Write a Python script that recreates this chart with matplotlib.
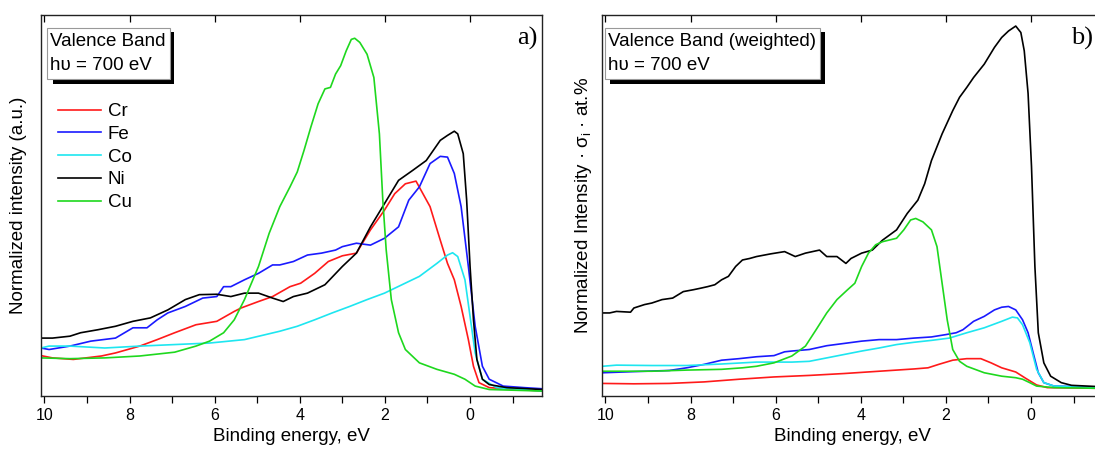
import matplotlib
matplotlib.use("Agg")
import matplotlib.pyplot as plt
from matplotlib.patches import Rectangle
from matplotlib.ticker import MultipleLocator

plt.rcParams['font.family'] = ['Liberation Sans', 'DejaVu Sans']
plt.rcParams['mathtext.fontset'] = 'custom'
plt.rcParams['mathtext.rm'] = 'Liberation Sans'
plt.rcParams['mathtext.it'] = 'Liberation Sans:italic'
plt.rcParams['mathtext.default'] = 'regular'

# ---------------- Panel a: normalized valence band spectra ----------------
a_cr_e = [10.08, 9.81, 9.32, 8.66, 8.33, 7.76, 7.35, 6.94, 6.44, 5.95, 5.54, 5.38, 4.97, 4.64, 4.23, 3.98,
          3.65, 3.33, 3.00, 2.67, 2.34, 2.01, 1.77, 1.52, 1.27, 0.94, 0.70, 0.53, 0.37, 0.21, 0.04, -0.08,
          -0.21, -0.45, -1.70]
a_cr_i = [10.6, 10.0, 9.6, 10.5, 11.3, 13.1, 14.8, 16.6, 18.7, 19.6, 22.2, 23.1, 24.8, 26.1, 28.7, 29.6,
          32.2, 35.3, 36.8, 37.5, 43.6, 48.8, 53.1, 55.7, 56.4, 49.7, 40.9, 34.8, 30.5, 23.5, 14.8, 7.8,
          3.5, 2.2, 1.3]

a_fe_e = [10.08, 9.89, 9.40, 8.91, 8.33, 7.92, 7.59, 7.35, 7.10, 6.69, 6.28, 5.95, 5.79, 5.62, 5.30, 4.97,
          4.64, 4.47, 4.15, 3.82, 3.49, 3.16, 3.00, 2.67, 2.34, 2.01, 1.68, 1.44, 1.19, 0.94, 0.70, 0.53,
          0.37, 0.21, 0.04, -0.12, -0.29, -0.45, -0.78, -1.27, -1.70]
a_fe_i = [12.6, 12.2, 13.1, 14.4, 15.2, 17.9, 17.9, 20.0, 21.8, 23.5, 25.7, 26.1, 28.7, 28.7, 30.5, 32.2,
          34.4, 34.4, 35.3, 37.0, 37.5, 38.3, 39.2, 40.1, 39.6, 41.4, 44.4, 51.4, 54.9, 61.0, 62.9, 62.7,
          58.4, 49.7, 34.0, 18.3, 7.8, 4.4, 2.6, 2.2, 1.9]

a_co_e = [10.08, 9.89, 9.40, 8.58, 7.76, 6.94, 6.12, 5.30, 4.47, 4.06, 3.65, 3.24, 2.83, 2.42, 2.01, 1.60,
          1.19, 0.78, 0.53, 0.41, 0.29, 0.12, 0.00, -0.12, -0.29, -0.62, -1.70]
a_co_i = [12.6, 13.1, 13.1, 12.6, 13.1, 13.5, 13.9, 14.8, 17.0, 18.3, 20.0, 21.8, 23.5, 25.3, 27.0, 29.2,
          31.4, 34.8, 37.0, 37.6, 36.6, 30.5, 20.9, 11.3, 4.4, 2.2, 1.3]

a_ni_e = [10.08, 9.81, 9.40, 9.15, 8.74, 8.33, 7.92, 7.51, 7.10, 6.69, 6.36, 5.95, 5.62, 5.30, 4.97, 4.64,
          4.39, 4.15, 3.82, 3.41, 3.00, 2.67, 2.34, 2.01, 1.68, 1.35, 1.03, 0.70, 0.53, 0.37, 0.29, 0.16,
          0.08, 0.00, -0.08, -0.16, -0.29, -0.45, -0.86, -1.70]
a_ni_i = [15.2, 15.2, 15.7, 16.6, 17.4, 18.3, 19.6, 20.5, 22.6, 25.3, 26.6, 26.7, 26.1, 27.0, 27.0, 25.7,
          24.8, 26.1, 27.0, 29.2, 34.0, 37.5, 44.4, 50.5, 56.6, 59.2, 61.8, 67.1, 68.4, 69.5, 68.8, 63.6,
          51.4, 34.0, 20.0, 9.6, 4.4, 3.0, 2.2, 1.7]

a_cu_e = [10.08, 9.40, 8.58, 7.76, 6.94, 6.44, 6.12, 5.79, 5.54, 5.30, 4.97, 4.72, 4.47, 4.23, 4.06, 3.90,
          3.74, 3.57, 3.41, 3.28, 3.16, 3.04, 2.91, 2.79, 2.71, 2.59, 2.42, 2.26, 2.13, 2.05, 1.97, 1.85,
          1.68, 1.52, 1.19, 0.78, 0.37, 0.12, -0.12, -0.45, -1.70]
a_cu_i = [10.0, 9.8, 10.0, 10.5, 11.5, 13.1, 14.4, 16.6, 20.0, 25.3, 34.0, 42.7, 49.7, 54.9, 58.8, 64.5,
          70.6, 76.7, 80.6, 81.0, 84.5, 86.7, 90.6, 93.6, 93.9, 92.8, 89.7, 83.6, 68.8, 51.4, 38.3, 25.3,
          16.6, 12.2, 8.7, 7.0, 5.7, 4.4, 2.6, 1.7, 1.3]

# ---------------- Panel b: weighted valence band spectra ----------------
b_cr_e = [10.07, 9.33, 8.50, 7.68, 6.86, 6.04, 5.21, 4.39, 3.57, 2.75, 2.42, 2.17, 1.84, 1.51, 1.18, 0.94,
          0.69, 0.36, 0.12, -0.13, -0.38, -1.70]
b_cr_i = [3.3, 3.2, 3.3, 3.7, 4.4, 5.0, 5.4, 5.9, 6.5, 7.1, 7.4, 8.3, 9.4, 9.8, 9.8, 8.7,
          7.4, 6.3, 4.6, 2.9, 2.2, 2.0]

b_fe_e = [10.07, 9.33, 8.50, 8.09, 7.68, 7.27, 6.86, 6.45, 6.04, 5.79, 5.62, 5.21, 4.80, 4.39, 3.98, 3.57,
          3.16, 2.75, 2.34, 2.01, 1.76, 1.60, 1.35, 1.10, 0.86, 0.69, 0.53, 0.36, 0.20, 0.07, -0.05, -0.17,
          -0.30, -0.54, -1.70]
b_fe_i = [6.1, 6.4, 6.7, 7.4, 8.3, 9.4, 9.8, 10.3, 10.6, 11.6, 11.8, 12.2, 13.2, 13.8, 14.4, 14.8,
          14.8, 15.2, 15.5, 16.1, 16.6, 17.4, 19.6, 20.9, 22.6, 23.3, 23.5, 22.6, 20.0, 16.6, 11.3, 6.1,
          3.5, 2.6, 2.3]

b_co_e = [10.07, 9.74, 8.91, 8.09, 7.27, 6.45, 5.62, 5.21, 4.80, 4.39, 3.98, 3.57, 3.16, 2.75, 2.34, 1.92,
          1.51, 1.10, 0.69, 0.44, 0.32, 0.20, 0.03, -0.13, -0.30, -0.54, -1.70]
b_co_i = [7.8, 8.1, 8.0, 8.0, 8.4, 8.9, 8.9, 9.1, 10.0, 10.9, 11.8, 12.6, 13.5, 14.1, 14.6, 15.2,
          16.6, 17.9, 19.6, 20.7, 20.5, 18.7, 14.0, 7.0, 3.5, 2.6, 2.2]

b_ni_e = [10.07, 9.90, 9.74, 9.41, 9.33, 9.08, 8.91, 8.67, 8.42, 8.17, 7.93, 7.76, 7.60, 7.43, 7.27, 7.11,
          6.94, 6.78, 6.61, 6.45, 6.12, 5.79, 5.54, 5.30, 4.97, 4.80, 4.56, 4.35, 4.23, 3.98, 3.73, 3.49,
          3.16, 2.91, 2.66, 2.50, 2.34, 2.09, 1.84, 1.68, 1.51, 1.35, 1.10, 0.86, 0.69, 0.53, 0.36, 0.24,
          0.16, 0.07, -0.01, -0.09, -0.17, -0.30, -0.46, -0.71, -0.95, -1.70]
b_ni_i = [21.8, 21.8, 22.2, 22.0, 23.1, 24.0, 24.4, 25.3, 25.7, 27.4, 27.9, 28.3, 28.7, 29.2, 30.5, 31.4,
          34.0, 35.7, 36.1, 36.6, 37.3, 37.9, 36.6, 37.5, 38.3, 36.6, 36.6, 34.8, 36.1, 37.5, 38.3, 40.9,
          43.6, 47.9, 51.4, 55.7, 61.8, 68.8, 74.9, 78.4, 81.0, 83.6, 87.1, 91.5, 94.1, 95.8, 97.1, 95.4,
          90.6, 79.4, 60.3, 34.0, 16.6, 8.7, 5.2, 3.5, 2.8, 2.4]

b_cu_e = [10.07, 8.91, 8.09, 7.27, 6.78, 6.45, 6.04, 5.62, 5.30, 5.05, 4.80, 4.56, 4.31, 4.14, 3.98, 3.82,
          3.65, 3.49, 3.16, 2.99, 2.83, 2.71, 2.54, 2.34, 2.21, 2.09, 1.97, 1.84, 1.68, 1.51, 1.10, 0.69,
          0.36, 0.20, 0.03, -0.13, -0.54, -1.70]
b_cu_i = [6.5, 6.5, 6.8, 7.0, 7.4, 7.8, 8.7, 10.5, 13.1, 17.4, 21.8, 25.3, 27.9, 29.6, 34.0, 37.5,
          39.7, 40.5, 41.4, 43.6, 46.2, 46.6, 45.7, 43.6, 39.2, 29.6, 20.0, 12.2, 9.1, 7.8, 6.1, 5.2,
          4.8, 4.4, 3.5, 2.6, 2.2, 2.0]

elements = ["Cr", "Fe", "Co", "Ni", "Cu"]
colors = ["#ff1a1a", "#1a1aff", "#1ee6f0", "#000000", "#1ed81e"]
x_ticks = [10, 8, 6, 4, 2, 0]
x_label = "Binding energy, eV"
ylabel_a = "Normalized intensity (a.u.)"
ylabel_b = "Normalized Intensity · σ$_\\mathregular{i}$ · at.%"
box_a = ["Valence Band", "hυ = 700 eV"]
box_b = ["Valence Band (weighted)", "hυ = 700 eV"]

series_a = [(a_cr_e, a_cr_i), (a_fe_e, a_fe_i), (a_co_e, a_co_i), (a_ni_e, a_ni_i), (a_cu_e, a_cu_i)]
series_b = [(b_cr_e, b_cr_i), (b_fe_e, b_fe_i), (b_co_e, b_co_i), (b_ni_e, b_ni_i), (b_cu_e, b_cu_i)]

W, H = 1095, 453
fig = plt.figure(figsize=(W / 100, H / 100), dpi=100)

ax_w = 501 / W
ax_h = 381 / H
ax_b0 = 1 - 396 / H
axa = fig.add_axes([41 / W, ax_b0, ax_w, ax_h])
axb = fig.add_axes([602 / W, ax_b0, ax_w, ax_h])


def style(ax, ylabel, label_pad):
    ax.set_xlim(10.08, -1.69)
    ax.set_ylim(0, 100)
    ax.set_yticks([])
    ax.set_xticks(x_ticks)
    ax.xaxis.set_minor_locator(MultipleLocator(1))
    ax.tick_params(axis='x', which='major', direction='out', length=5, width=0.9,
                   labelsize=11.5, pad=4, top=False)
    ax.tick_params(axis='x', which='minor', direction='out', length=5, width=0.9, top=False)
    for s in ax.spines.values():
        s.set_linewidth(1.0)
        s.set_color('#222222')
    sec = ax.secondary_xaxis('top')
    sec.set_xticks(x_ticks)
    sec.tick_params(direction='in', length=5, width=0.9, labeltop=False)
    sec.spines['top'].set_visible(False)
    ax.set_xlabel(x_label, fontsize=13.5, labelpad=3)
    ax.set_ylabel(ylabel, fontsize=13.5, labelpad=label_pad)


def info_box(ax, lines, x0, x1, sx0, sx1):
    trans = ax.transAxes
    y_top = (396 - 28) / 381
    y_bot = (396 - 79) / 381
    sy_top = (396 - 32) / 381
    sy_bot = (396 - 84) / 381
    ax.add_patch(Rectangle((sx0, sy_bot), sx1 - sx0, sy_top - sy_bot, transform=trans,
                           facecolor='black', edgecolor='none', zorder=5))
    ax.add_patch(Rectangle((x0, y_bot), x1 - x0, y_top - y_bot, transform=trans,
                           facecolor='white', edgecolor='#999999', linewidth=0.8, zorder=6))
    ax.text(x0 + 0.005, (396 - 42) / 381, lines[0], transform=trans, fontsize=13.5,
            va='center', ha='left', zorder=7)
    ax.text(x0 + 0.005, (396 - 66) / 381, lines[1], transform=trans, fontsize=13.5,
            va='center', ha='left', zorder=7)


style(axa, ylabel_a, 10)
style(axb, ylabel_b, 6)

for (e, i), name, c in zip(series_a, elements, colors):
    axa.plot(e, i, color=c, lw=1.2, label=name)
for (e, i), name, c in zip(series_b, elements, colors):
    axb.plot(e, i, color=c, lw=1.2)

info_box(axa, box_a, (47 - 41) / 501, (170 - 41) / 501, (53 - 41) / 501, (174 - 41) / 501)
info_box(axb, box_b, (605 - 602) / 501, (820 - 602) / 501, (610 - 602) / 501, (825 - 602) / 501)

axa.legend(loc='upper left', bbox_to_anchor=((58 - 41) / 501, (396 - 103) / 381), frameon=False,
           fontsize=13.5, handlelength=2.3, handletextpad=0.35, labelspacing=0.3,
           borderpad=0, borderaxespad=0)

axa.text(0.992, (396 - 38) / 381, "a)", transform=axa.transAxes, fontsize=19,
         family='Liberation Serif', ha='right', va='center')
axb.text(0.98, (396 - 38) / 381, "b)", transform=axb.transAxes, fontsize=19,
         family='Liberation Serif', ha='right', va='center')

fig.savefig("out.png", dpi=100)
